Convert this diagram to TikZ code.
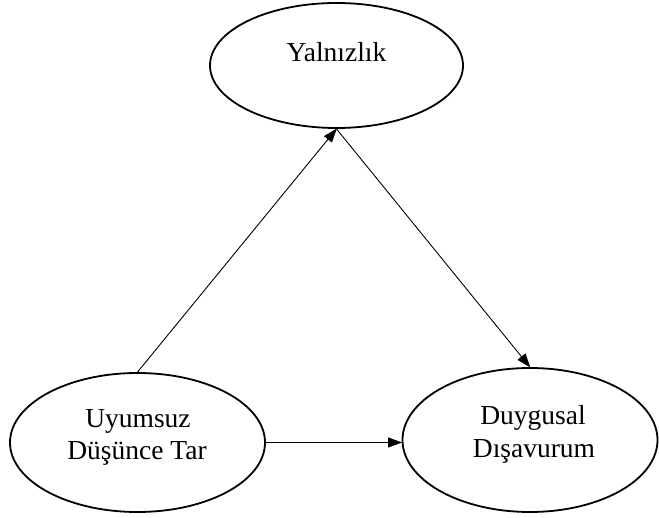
\documentclass[tikz,border=0pt]{standalone}
\usepackage{fontspec}
\setmainfont{Liberation Serif}
\usetikzlibrary{shapes.geometric,arrows.meta}
\begin{document}
\begin{tikzpicture}[x=1pt,y=-1pt,
  oval/.style={draw, ellipse, line width=1.8pt, inner sep=0pt},
  lbl/.style={anchor=base, inner sep=0pt, font=\fontsize{27.5}{32}\selectfont},
  link/.style={line width=0.9pt, -{Triangle[length=14pt,width=10pt]}, shorten >=-0.5pt}]
  \useasboundingbox (0,0) rectangle (659,518);

  % the three variables
  \node[oval, minimum width=253pt, minimum height=125pt] (yal) at (336.5,65.5) {};
  \node[oval, minimum width=255pt, minimum height=139pt] (uyum) at (137.5,442.5) {};
  \node[oval, minimum width=255pt, minimum height=144pt] (duy) at (530,440) {};

  % labels
  \node[lbl] (tYal) at (336.5,62) {Yalnızlık};
  \node[lbl] (tUyum1) at (138,428) {Uyumsuz};
  \node[lbl] (tUyum2) at (137,460) {Düşünce Tar};
  \node[lbl] (tDuy1) at (533,425) {Duygusal};
  \node[lbl] (tDuy2) at (534,458) {Dışavurum};

  % paths
  \draw[link] (uyum.north) -- (yal.south);
  \draw[link] (yal.south) -- (duy.north);
  \draw[link] (uyum.east) -- (uyum.east -| duy.west);
\end{tikzpicture}
\end{document}
